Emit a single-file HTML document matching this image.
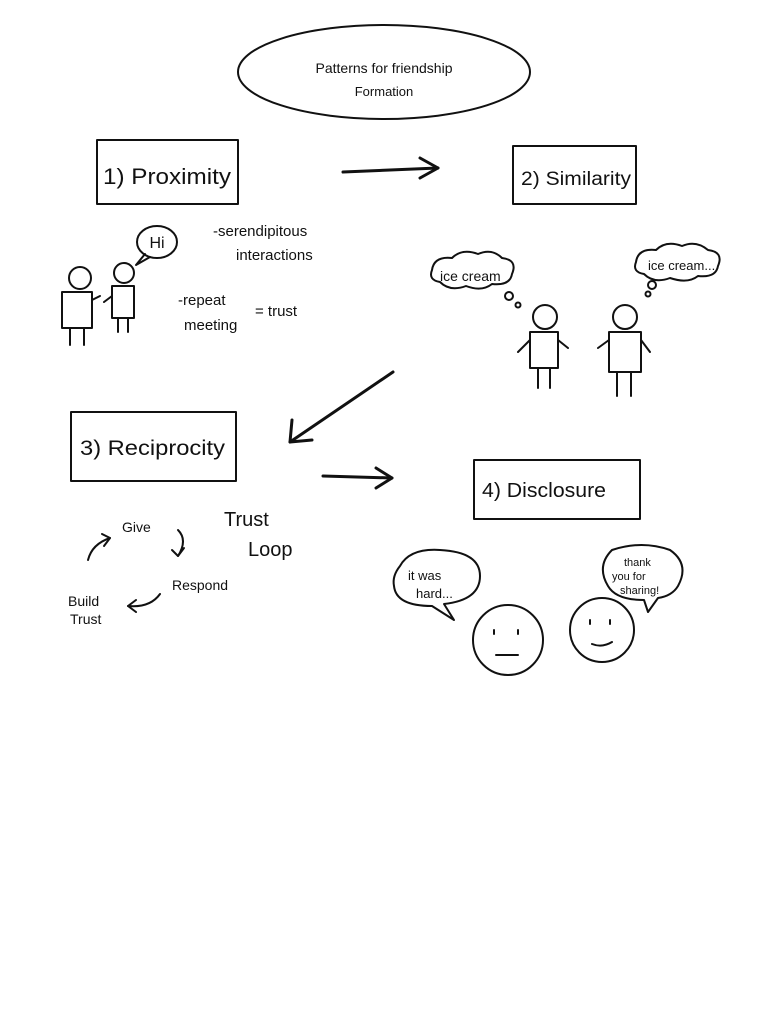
<!DOCTYPE html>
<html><head><meta charset="utf-8"><style>
html,body{margin:0;padding:0;background:#fff;}
svg{display:block}
text{font-family:"Liberation Sans",sans-serif;fill:#111;}
</style></head><body>
<svg width="780" height="1024" viewBox="0 0 780 1024" xmlns="http://www.w3.org/2000/svg">
<g fill="none" stroke="#111" stroke-width="2" stroke-linecap="round" stroke-linejoin="round">
<ellipse cx="384" cy="72" rx="146" ry="47"/>
<rect x="97" y="140" width="141" height="64"/>
<rect x="513" y="146" width="123" height="58"/>
<rect x="71" y="412" width="165" height="69"/>
<rect x="474" y="460" width="166" height="59"/>
<path d="M343 172 L438 168" stroke-width="3"/><path d="M420 158 L438 168 L420 178" stroke-width="3"/>
<path d="M393 372 L290 442" stroke-width="3"/><path d="M292 420 L290 442 L312 440" stroke-width="3"/>
<path d="M323 476 L392 478" stroke-width="3"/><path d="M376 468 L392 478 L376 488" stroke-width="3"/>
<circle cx="80" cy="278" r="11"/><rect x="62" y="292" width="30" height="36"/>
<path d="M70 328 L70 345 M84 328 L84 345 M92 300 L100 296"/>
<circle cx="124" cy="273" r="10"/><rect x="112" y="286" width="22" height="32"/>
<path d="M118 318 L118 332 M128 318 L128 332 M112 296 L104 302"/>
<ellipse cx="157" cy="242" rx="20" ry="16"/><path d="M145 254 L136 265 L150 257"/>
<path d="M432 270 q2 -14 20 -12 q10 -10 26 -4 q14 -6 24 4 q16 2 10 16 q-2 12 -20 10 q-10 8 -26 2 q-16 6 -26 -4 q-12 -2 -8 -12z"/>
<circle cx="509" cy="296" r="4"/><circle cx="518" cy="305" r="2.5"/>
<path d="M636 262 q2 -14 20 -12 q10 -10 26 -4 q14 -6 26 4 q16 2 10 16 q-2 12 -20 10 q-10 8 -28 2 q-16 6 -26 -4 q-12 -2 -8 -12z"/>
<circle cx="652" cy="285" r="4"/><circle cx="648" cy="294" r="2.5"/>
<circle cx="545" cy="317" r="12"/><rect x="530" y="332" width="28" height="36"/>
<path d="M538 368 L538 388 M550 368 L550 388 M530 340 L518 352 M558 340 L568 348"/>
<circle cx="625" cy="317" r="12"/><rect x="609" y="332" width="32" height="40"/>
<path d="M617 372 L617 396 M631 372 L631 396 M609 340 L598 348 M641 340 L650 352"/>
<path d="M88 560 q4 -16 22 -22"/><path d="M102 534 L110 538 L104 546"/>
<path d="M178 530 q10 10 0 26"/><path d="M172 550 L178 556 L184 548"/>
<path d="M160 594 q-10 14 -32 12"/><path d="M136 600 L128 606 L136 612"/>
<circle cx="508" cy="640" r="35"/><circle cx="602" cy="630" r="32"/>
<path d="M494 630 l0 4 M518 630 l0 4 M496 655 L518 655"/>
<path d="M590 620 l0 4 M610 620 l0 4 M592 644 q10 4 20 -2"/>
<path d="M400 566 q10 -18 40 -16 q40 2 40 26 q0 24 -36 28 l10 16 l-22 -14 q-36 0 -38 -20 q-2 -10 6 -20z"/>
<path d="M612 550 q30 -10 58 0 q20 14 8 36 q-6 10 -20 12 l-10 14 l-4 -12 q-28 0 -36 -14 q-12 -20 4 -36z"/>
</g>
<text x="384" y="73" font-size="14" text-anchor="middle">Patterns for friendship</text>
<text x="384" y="96" font-size="13" text-anchor="middle">Formation</text>
<text x="103" y="184" font-size="22" textLength="128" lengthAdjust="spacingAndGlyphs">1) Proximity</text>
<text x="521" y="185" font-size="19" textLength="110" lengthAdjust="spacingAndGlyphs">2) Similarity</text>
<text x="80" y="455" font-size="21" textLength="145" lengthAdjust="spacingAndGlyphs">3) Reciprocity</text>
<text x="482" y="497" font-size="20" textLength="124" lengthAdjust="spacingAndGlyphs">4) Disclosure</text>
<text x="157" y="248" font-size="16" text-anchor="middle">Hi</text>
<text x="213" y="236" font-size="15">-serendipitous</text>
<text x="236" y="260" font-size="15">interactions</text>
<text x="178" y="305" font-size="15">-repeat</text>
<text x="184" y="330" font-size="15">meeting</text>
<text x="255" y="316" font-size="15">= trust</text>
<text x="440" y="281" font-size="14">ice cream</text>
<text x="648" y="270" font-size="13">ice cream...</text>
<text x="122" y="532" font-size="14">Give</text>
<text x="172" y="590" font-size="14">Respond</text>
<text x="68" y="606" font-size="14">Build</text>
<text x="70" y="624" font-size="14">Trust</text>
<text x="224" y="526" font-size="20">Trust</text>
<text x="248" y="556" font-size="20">Loop</text>
<text x="408" y="580" font-size="13">it was</text>
<text x="416" y="598" font-size="13">hard...</text>
<text x="624" y="566" font-size="11">thank</text>
<text x="612" y="580" font-size="11">you for</text>
<text x="620" y="594" font-size="11">sharing!</text>
</svg>
</body></html>
